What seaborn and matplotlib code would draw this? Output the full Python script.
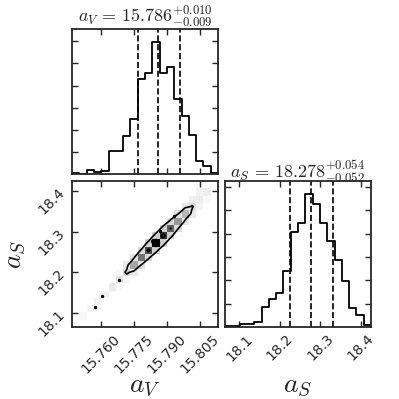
import numpy as np
import pandas as pd
import matplotlib
matplotlib.use("Agg")
import matplotlib.pyplot as plt
import seaborn as sns

sns.set_style("ticks")
plt.rcParams["font.family"] = ["DejaVu Sans"]
plt.rcParams["mathtext.fontset"] = "cm"

# parameter ranges (20 bins each)
av_range = [15.7468, 15.8134]
as_range = [18.065, 18.425]

# 1d histogram counts
av_counts = [5, 2, 18, 8, 14, 104, 106, 172, 247, 430,
             455, 596, 458, 484, 341, 264, 175, 59, 35, 3]
as_counts = [3, 4, 11, 11, 22, 86, 119, 145, 239, 407,
             447, 568, 526, 447, 366, 286, 198, 82, 52, 9]

# 16/50/84 quantiles
av_q = [15.777, 15.786, 15.796]
as_q = [18.226, 18.278, 18.332]

# 2d histogram: diagonal band (cell i on a_V, cell j on a_S)
diag_w = [0, 3, 4, 5, 6, 8, 12, 16, 35, 55, 70, 100, 78, 62, 40, 28, 14, 8, 7, 0]
upper_w = [0, 0, 0, 0, 0, 0, 3, 8, 12, 15, 18, 20, 20, 16, 12, 10, 6, 5, 0, 0]
lower_w = [0, 0, 0, 0, 0, 2, 4, 8, 12, 15, 18, 20, 18, 14, 10, 8, 5, 3, 0, 0]

# loose samples drawn as dots
pts_av = [15.7573, 15.7604, 15.7684, 15.7835, 15.7868, 15.7935]
pts_as = [18.115, 18.141, 18.181, 18.276, 18.301, 18.339]

av_ticks = [15.760, 15.775, 15.790, 15.805]
as_ticks = [18.1, 18.2, 18.3, 18.4]

av_edges = np.linspace(av_range[0], av_range[1], 21)
as_edges = np.linspace(as_range[0], as_range[1], 21)
av_c = 0.5 * (av_edges[1:] + av_edges[:-1])
as_c = 0.5 * (as_edges[1:] + as_edges[:-1])

fig = plt.figure(figsize=(3.99, 3.99), dpi=100)
W = 146 / 399.
ax1 = fig.add_axes([72 / 399., 1 - 174 / 399., W, 145 / 399.])
ax2 = fig.add_axes([72 / 399., 1 - 327 / 399., W, W])
ax3 = fig.add_axes([225 / 399., 1 - 327 / 399., W, W])

for ax in (ax1, ax2, ax3):
    ax.tick_params(direction="in", top=True, right=True, length=4,
                   width=1, labelsize=10)
    for s in ax.spines.values():
        s.set_linewidth(1.3)

def hist1d(ax, centers, counts, edges, q, rng, name, ticks):
    df = pd.DataFrame({"x": centers, "w": counts})
    sns.histplot(data=df, x="x", weights="w", bins=list(edges), element="step",
                 fill=False, color="k", linewidth=1.3, ax=ax)
    for v in q:
        ax.axvline(v, color="k", ls="--", lw=1.2)
    ax.set_xlim(rng)
    ax.set_ylim(0, 1.1 * max(counts))
    ax.set_yticks(np.arange(100, 1.1 * max(counts), 100))
    ax.set_yticklabels([])
    ax.set_ylabel("")
    ax.set_xticks(ticks)
    ax.set_title(r"$%s\,=\,%.3f^{+%.3f}_{-%.3f}$" % (name, q[1], q[2] - q[1], q[1] - q[0]),
                 fontsize=13, pad=2)

hist1d(ax1, av_c, av_counts, av_edges, av_q, av_range, "a_V", av_ticks)
ax1.set_xticklabels([])
ax1.set_xlabel("")

hist1d(ax3, as_c, as_counts, as_edges, as_q, as_range, "a_S", as_ticks)
ax3.set_xticklabels([str(t) for t in as_ticks], rotation=45)
ax3.set_xlabel(r"$a_S$", fontsize=20)
ax3.xaxis.set_label_coords(0.5, -0.3)

# 2d panel
ci, cj, cw = [], [], []
for i in range(20):
    if diag_w[i] > 0:
        ci.append(i); cj.append(i); cw.append(diag_w[i])
    if i < 19 and upper_w[i] > 0:
        ci.append(i); cj.append(i + 1); cw.append(upper_w[i])
    if i < 19 and lower_w[i] > 0:
        ci.append(i + 1); cj.append(i); cw.append(lower_w[i])
cells = pd.DataFrame({"x": av_c[ci], "y": as_c[cj], "w": cw})
sns.histplot(data=cells, x="x", y="y", weights="w",
             bins=[list(av_edges), list(as_edges)], cmap="gray_r", ax=ax2)
H, _, _ = np.histogram2d(cells["x"], cells["y"], bins=[av_edges, as_edges],
                         weights=cells["w"])
ax2.contour(av_c, as_c, H.T, levels=[13, 60], colors="k", linewidths=1.2)
ax2.scatter(pts_av, pts_as, s=2, color="k", zorder=5)
ax2.set_xlim(av_range)
ax2.set_ylim(as_range)
ax2.set_xticks(av_ticks)
ax2.set_xticklabels(["%.3f" % t for t in av_ticks], rotation=45)
ax2.set_yticks(as_ticks)
ax2.set_yticklabels([str(t) for t in as_ticks], rotation=45)
ax2.set_xlabel(r"$a_V$", fontsize=20)
ax2.set_ylabel(r"$a_S$", fontsize=20)
ax2.xaxis.set_label_coords(0.5, -0.3)
ax2.yaxis.set_label_coords(-0.3, 0.5)

fig.savefig("out.png", dpi=100)
